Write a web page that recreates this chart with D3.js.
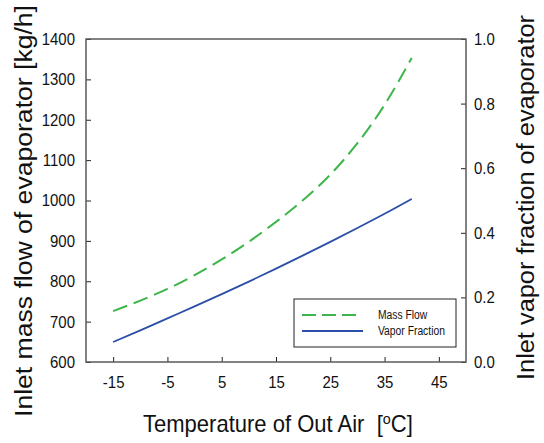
<!DOCTYPE html>
<html>
<head>
<meta charset="utf-8">
<script src="https://cdn.jsdelivr.net/npm/d3@7"></script>
<style>
  body { margin: 0; background: #fff; }
  text { font-family: "Liberation Sans", Arial, sans-serif; fill: #111; }
</style>
</head>
<body>
<div id="chart"></div>
<script>
// temperatures of out air [oC]
const temps = [-15, -10, -5, 0, 5, 10, 15, 20, 25, 30, 35, 40];
// inlet mass flow of evaporator [kg/h]
const massFlow = [726, 752, 781, 815, 854, 898, 947, 1001, 1064, 1142, 1237, 1353];
// inlet vapor fraction of evaporator
const vaporFraction = [0.062, 0.098, 0.135, 0.172, 0.210, 0.249, 0.289, 0.330, 0.372, 0.415, 0.459, 0.505];

const xTicks = [-15, -5, 5, 15, 25, 35, 45];
const yLeftTicks = [600, 700, 800, 900, 1000, 1100, 1200, 1300, 1400];
const yRightTicks = [0, 0.2, 0.4, 0.6, 0.8, 1.0];
const seriesNames = ["Mass Flow", "Vapor Fraction"];

const width = 544, height = 443;
const margin = { left: 86, right: 78, top: 39, bottom: 81 };
const innerW = width - margin.left - margin.right;
const innerH = height - margin.top - margin.bottom;

const green = "#3db54a", blue = "#2b4fa6", frameColor = "#5a5a5a";

const svg = d3.select("#chart").append("svg")
  .attr("width", width)
  .attr("height", height);

const g = svg.append("g")
  .attr("transform", `translate(${margin.left},${margin.top})`);

const x = d3.scaleLinear().domain([-20, 50]).range([0, innerW]);
const yL = d3.scaleLinear().domain([600, 1400]).range([innerH, 0]);
const yR = d3.scaleLinear().domain([0, 1]).range([innerH, 0]);

// narrow the glyphs a little, the original uses a condensed face
function squeeze(sel, k) {
  sel.each(function () {
    const len = this.getComputedTextLength();
    d3.select(this).attr("textLength", len * k).attr("lengthAdjust", "spacingAndGlyphs");
  });
}

// axes (ticks inward)
const xAxis = g.append("g")
  .attr("transform", `translate(0,${innerH})`)
  .call(d3.axisBottom(x).tickValues(xTicks).tickFormat(d => String(d))
    .tickSizeInner(-5).tickSizeOuter(0).tickPadding(14));
const leftAxis = g.append("g")
  .call(d3.axisLeft(yL).tickValues(yLeftTicks).tickFormat(d => String(d))
    .tickSizeInner(-5).tickSizeOuter(0).tickPadding(11));
const rightAxis = g.append("g")
  .attr("transform", `translate(${innerW},0)`)
  .call(d3.axisRight(yR).tickValues(yRightTicks).tickFormat(d => d.toFixed(1))
    .tickSizeInner(-5).tickSizeOuter(0).tickPadding(8));

[xAxis, leftAxis, rightAxis].forEach(ax => {
  ax.select(".domain").remove();
  ax.selectAll(".tick line").attr("stroke", "#222").attr("stroke-width", 1);
  ax.selectAll(".tick text")
    .attr("font-size", 17)
    .attr("fill", "#111")
    .style("font-family", '"Liberation Sans", Arial, sans-serif')
    .call(squeeze, 0.88);
});

// frame
g.append("rect")
  .attr("width", innerW)
  .attr("height", innerH)
  .attr("fill", "none")
  .attr("stroke", frameColor)
  .attr("stroke-width", 1.5);

// curves
const massLine = d3.line()
  .x((d, i) => x(temps[i]))
  .y(d => yL(d))
  .curve(d3.curveNatural);
const vaporLine = d3.line()
  .x((d, i) => x(temps[i]))
  .y(d => yR(d))
  .curve(d3.curveNatural);

g.append("path")
  .datum(massFlow)
  .attr("d", massLine)
  .attr("fill", "none")
  .attr("stroke", green)
  .attr("stroke-width", 2)
  .attr("stroke-dasharray", "15,7");

g.append("path")
  .datum(vaporFraction)
  .attr("d", vaporLine)
  .attr("fill", "none")
  .attr("stroke", blue)
  .attr("stroke-width", 1.8);

// legend
const lg = svg.append("g").attr("transform", "translate(294,299)");
lg.append("rect")
  .attr("width", 162)
  .attr("height", 48)
  .attr("fill", "#fff")
  .attr("stroke", "#222")
  .attr("stroke-width", 1);
[green, blue].forEach((c, i) => {
  lg.append("line")
    .attr("x1", 8).attr("x2", i === 0 ? 64 : 69)
    .attr("y1", 16 + i * 16).attr("y2", 16 + i * 16)
    .attr("stroke", c)
    .attr("stroke-width", 1.8)
    .attr("stroke-dasharray", i === 0 ? "14,6" : null);
  lg.append("text")
    .attr("x", 84)
    .attr("y", 20 + i * 16)
    .attr("font-size", 12)
    .text(seriesNames[i])
    .call(squeeze, 0.86);
});

// x axis title, scaled horizontally to the width it has in the original
const xtG = svg.append("g");
const xt = xtG.append("text")
  .attr("font-size", 23)
  .style("white-space", "pre");
xt.append("tspan").text("Temperature of Out Air  [");
xt.append("tspan").attr("font-size", 15).attr("dy", -8).text("o");
xt.append("tspan").attr("dy", 8).text("C]");
const xtW = xt.node().getBBox().width;
xtG.attr("transform", `translate(143,432) scale(${270 / xtW},1)`);

svg.append("text")
  .attr("transform", "translate(32,417) rotate(-90)")
  .attr("font-size", 23)
  .attr("textLength", 412)
  .attr("lengthAdjust", "spacingAndGlyphs")
  .text("Inlet mass flow of evaporator [kg/h]");

svg.append("text")
  .attr("transform", "translate(534,380) rotate(-90)")
  .attr("font-size", 23)
  .attr("textLength", 365)
  .attr("lengthAdjust", "spacingAndGlyphs")
  .text("Inlet vapor fraction of evaporator");
</script>
</body>
</html>
